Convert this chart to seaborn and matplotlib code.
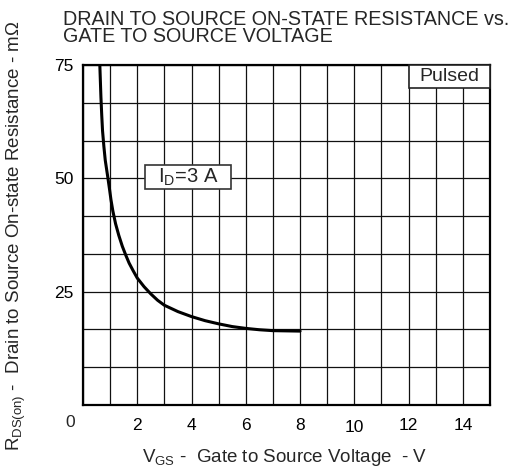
import numpy as np
import pandas as pd
import seaborn as sns
import matplotlib
matplotlib.use("Agg")
import matplotlib.pyplot as plt
from matplotlib.patches import Rectangle
from matplotlib.transforms import ScaledTranslation

# Data
vgs = [0.62, 0.64, 0.66, 0.69, 0.72, 0.77, 0.82, 0.87, 0.92, 0.98, 1.03, 1.1, 1.2, 1.32, 1.45, 1.58, 1.7, 1.85,
       2.0, 2.25, 2.5, 2.75, 3.0, 3.5, 4.0, 4.5, 5.0, 5.5, 6.0, 6.5, 7.0, 7.5, 8.0]
rds = [75, 71.5, 68, 64, 60.5, 57, 54, 52, 50, 47.5, 45.3, 42.8, 40, 37.4, 35, 33, 31.3, 29.6,
       28, 26.1, 24.5, 23.1, 22, 20.6, 19.5, 18.6, 17.9, 17.3, 16.9, 16.6, 16.4, 16.35, 16.3]
xtick_vals = [2, 4, 6, 8, 10, 12, 14]
ytick_vals = [25, 50, 75]

sns.set_style("white")
plt.rcParams['font.family'] = ['Liberation Sans', 'DejaVu Sans']
plt.rcParams['mathtext.fontset'] = 'custom'
plt.rcParams['mathtext.rm'] = 'Liberation Sans'
plt.rcParams['mathtext.it'] = 'Liberation Sans'

df = pd.DataFrame({"VGS": vgs, "RDS": rds})

fig = plt.figure(figsize=(5.15, 4.68), dpi=100)
ax = fig.add_axes([83/515, 1-405/468, (490-83)/515, (405-65)/468])

sns.lineplot(data=df, x="VGS", y="RDS", ax=ax, color="black", lw=2.2, sort=False, estimator=None, zorder=5)

ax.set_xlim(0, 15)
ax.set_ylim(0, 75)
ax.set_xticks(xtick_vals)
ax.set_yticks(ytick_vals)
ax.set_xticks(np.arange(0, 16, 1), minor=True)
ax.set_yticks(np.arange(0, 75.01, 75/9), minor=True)
ax.grid(which="both", color="#111111", lw=0.9)
ax.set_axisbelow(True)
ax.tick_params(which="both", length=0, labelsize=12.5, colors="black", pad=9)
ax.tick_params(axis="y", pad=7)
ax.set_xlabel("")
ax.set_ylabel("")
for s in ax.spines.values():
    s.set_color("black")
    s.set_linewidth(1.6)

# "10" sits slightly lower in the reference
for lab in ax.get_xticklabels():
    if lab.get_text() == "10":
        lab.set_transform(lab.get_transform() + ScaledTranslation(0, -1.5/72, fig.dpi_scale_trans))

ax.text(-0.48, -2.3, "0", ha="center", va="top", fontsize=12.5, clip_on=False)

# I_D annotation box
ax.add_patch(Rectangle((2.3, 47.6), 3.15, 5.4, fc="white", ec="#333333", lw=1.2, zorder=6))
ax.text(3.87, 50.3, r"I$_{\mathregular{D}}$=3 A", ha="center", va="center", fontsize=14.5, zorder=7)

# Pulsed box at the top-right corner
ax.add_patch(Rectangle((12, 69.9), 3, 5.1, fc="white", ec="#222222", lw=1.2, zorder=6, clip_on=False))
ax.text(13.5, 72.45, "Pulsed", ha="center", va="center", fontsize=14, zorder=7)

fig.text(63/515, 1-28/468, "DRAIN TO SOURCE ON-STATE RESISTANCE vs.\nGATE TO SOURCE VOLTAGE",
         ha="left", va="center", fontsize=14.2, linespacing=0.9)

fig.text(285/515, 1-457/468, r"V$_{\mathregular{GS}}$ -  Gate to Source Voltage  - V",
         ha="center", va="center", fontsize=13.5)
fig.text(16/515, 1-236/468, r"R$_{\mathregular{DS(on)}}$ -  Drain to Source On-state Resistance - m$\Omega$",
         ha="center", va="center", rotation=90, fontsize=13.5)

fig.savefig("out.png", dpi=100)
